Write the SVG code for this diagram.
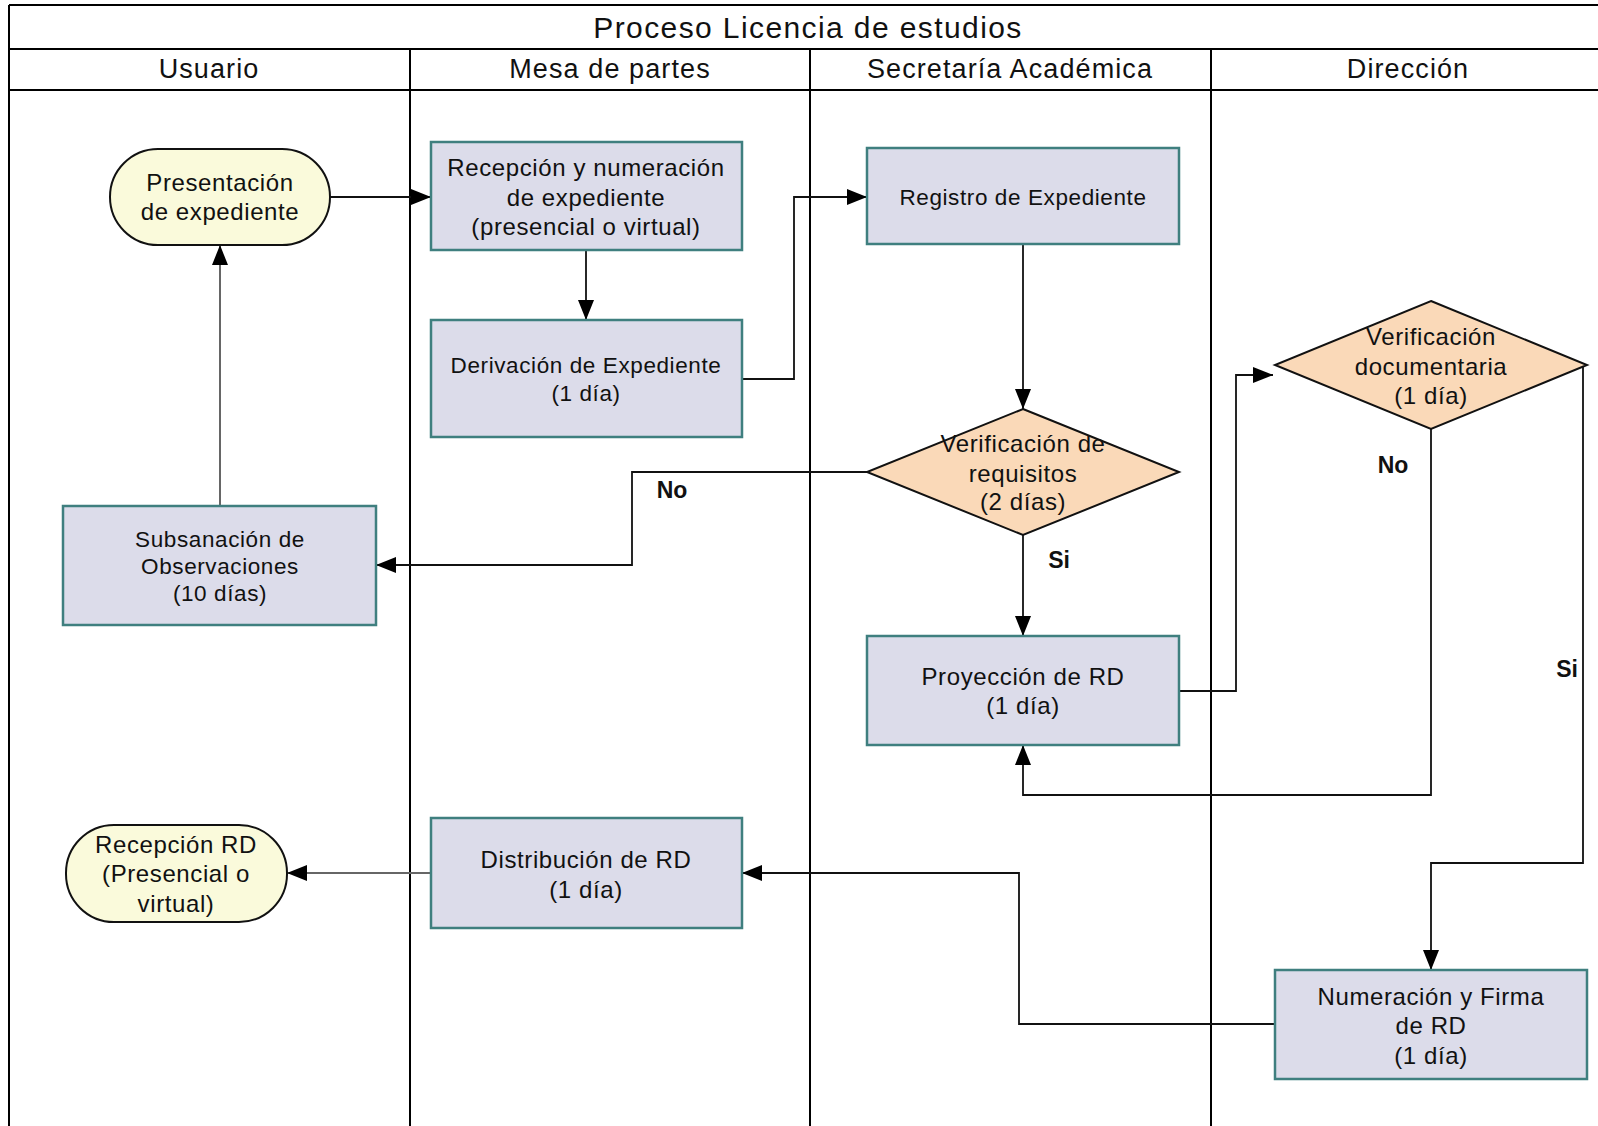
<svg xmlns="http://www.w3.org/2000/svg" width="1598" height="1126" viewBox="0 0 1598 1126">
<style>
text{font-family:"Liberation Sans",Arial,sans-serif;fill:#111;text-anchor:middle;dominant-baseline:central}
.title{font-size:30px;letter-spacing:1.4px}
.hdr{font-size:27px;letter-spacing:1.1px}
.t{font-size:24px;letter-spacing:0.6px}
.ts{font-size:22.5px;letter-spacing:0.6px}
.lbl{font-size:23px;font-weight:bold}
.lane{stroke:#000;stroke-width:2;fill:none}
.box{fill:#dcdcea;stroke:#3f7f7f;stroke-width:2.5}
.dia{fill:#fad9b8;stroke:#111;stroke-width:2}
.term{fill:#fafadb;stroke:#111;stroke-width:2}
.c{fill:none;stroke:#111;stroke-width:1.8}
.cg{fill:none;stroke:#666;stroke-width:2}
</style>
<defs>
<marker id="arr" markerUnits="userSpaceOnUse" markerWidth="20" markerHeight="16" refX="20" refY="8" orient="auto">
<path d="M0,0 L20,8 L0,16 z" fill="#000"/>
</marker>
</defs>
<rect width="1598" height="1126" fill="#fff"/>
<g id="pool">
<line class="lane" x1="9" y1="5" x2="1598" y2="5"/>
<line class="lane" x1="9" y1="49" x2="1598" y2="49"/>
<line class="lane" x1="9" y1="90" x2="1598" y2="90"/>
<line class="lane" x1="9" y1="5" x2="9" y2="1126"/>
<line class="lane" x1="410" y1="49" x2="410" y2="1126"/>
<line class="lane" x1="810" y1="49" x2="810" y2="1126"/>
<line class="lane" x1="1211" y1="49" x2="1211" y2="1126"/>
<text class="title" x="808" y="27">Proceso Licencia de estudios</text>
<text class="hdr" x="209" y="69">Usuario</text>
<text class="hdr" x="610" y="69">Mesa de partes</text>
<text class="hdr" x="1010" y="69">Secretaría Académica</text>
<text class="hdr" x="1408" y="69">Dirección</text>
</g>
<g id="connectors">
<path class="c" d="M330,197 H431" marker-end="url(#arr)"/>
<path class="c" d="M586,250 V320" marker-end="url(#arr)"/>
<path class="c" d="M742,379 H794 V197 H867" marker-end="url(#arr)"/>
<path class="c" d="M1023,244 V409" marker-end="url(#arr)"/>
<path class="c" d="M867,472 H632 V565 H376" marker-end="url(#arr)"/>
<path class="cg" d="M220,506 V245" marker-end="url(#arr)"/>
<path class="c" d="M1023,535 V636" marker-end="url(#arr)"/>
<path class="c" d="M1179,691 H1236 V375 H1273" marker-end="url(#arr)"/>
<path class="c" d="M1431,429 V795 H1023 V745" marker-end="url(#arr)"/>
<path class="c" d="M1585,365 H1583 V863 H1431 V970" marker-end="url(#arr)"/>
<path class="c" d="M1275,1024 H1019 V873 H742" marker-end="url(#arr)"/>
<path class="cg" d="M431,873 H287" marker-end="url(#arr)"/>
<text class="lbl" x="672" y="490">No</text>
<text class="lbl" x="1059" y="560">Si</text>
<text class="lbl" x="1393" y="465">No</text>
<text class="lbl" x="1567" y="669">Si</text>
</g>
<g id="n1">
<rect class="term" x="110" y="149" width="220" height="96" rx="48" ry="48"/>
<text class="t" x="220" y="182">Presentación</text>
<text class="t" x="220" y="211">de expediente</text>
</g>
<g id="n2">
<rect class="box" x="431" y="142" width="311" height="108"/>
<text class="t" x="586" y="167">Recepción y numeración</text>
<text class="t" x="586" y="197">de expediente</text>
<text class="t" x="586" y="226">(presencial o virtual)</text>
</g>
<g id="n3">
<rect class="box" x="431" y="320" width="311" height="117"/>
<text class="ts" x="586" y="365">Derivación de Expediente</text>
<text class="ts" x="586" y="393">(1 día)</text>
</g>
<g id="n4">
<rect class="box" x="867" y="148" width="312" height="96"/>
<text class="ts" x="1023" y="197">Registro de Expediente</text>
</g>
<g id="n5">
<polygon class="dia" points="1023,409 1179,472 1023,535 867,472"/>
<text class="t" x="1023" y="443">Verificación de</text>
<text class="t" x="1023" y="473">requisitos</text>
<text class="t" x="1023" y="501">(2 días)</text>
</g>
<g id="n6">
<rect class="box" x="63" y="506" width="313" height="119"/>
<text class="ts" x="220" y="539">Subsanación de</text>
<text class="ts" x="220" y="566">Observaciones</text>
<text class="ts" x="220" y="593">(10 días)</text>
</g>
<g id="n7">
<rect class="box" x="867" y="636" width="312" height="109"/>
<text class="t" x="1023" y="676">Proyección de  RD</text>
<text class="t" x="1023" y="705">(1 día)</text>
</g>
<g id="n8">
<polygon class="dia" points="1431,301 1587,365 1431,429 1275,365"/>
<text class="t" x="1431" y="336">Verificación</text>
<text class="t" x="1431" y="366">documentaria</text>
<text class="t" x="1431" y="395">(1 día)</text>
</g>
<g id="n9">
<rect class="term" x="66" y="825" width="221" height="97" rx="48" ry="48"/>
<text class="t" x="176" y="844">Recepción RD</text>
<text class="t" x="176" y="873">(Presencial o</text>
<text class="t" x="176" y="903">virtual)</text>
</g>
<g id="n10">
<rect class="box" x="431" y="818" width="311" height="110"/>
<text class="t" x="586" y="859">Distribución de  RD</text>
<text class="t" x="586" y="889">(1 día)</text>
</g>
<g id="n11">
<rect class="box" x="1275" y="970" width="312" height="109"/>
<text class="t" x="1431" y="996">Numeración y Firma</text>
<text class="t" x="1431" y="1025">de RD</text>
<text class="t" x="1431" y="1055">(1 día)</text>
</g>
</svg>
